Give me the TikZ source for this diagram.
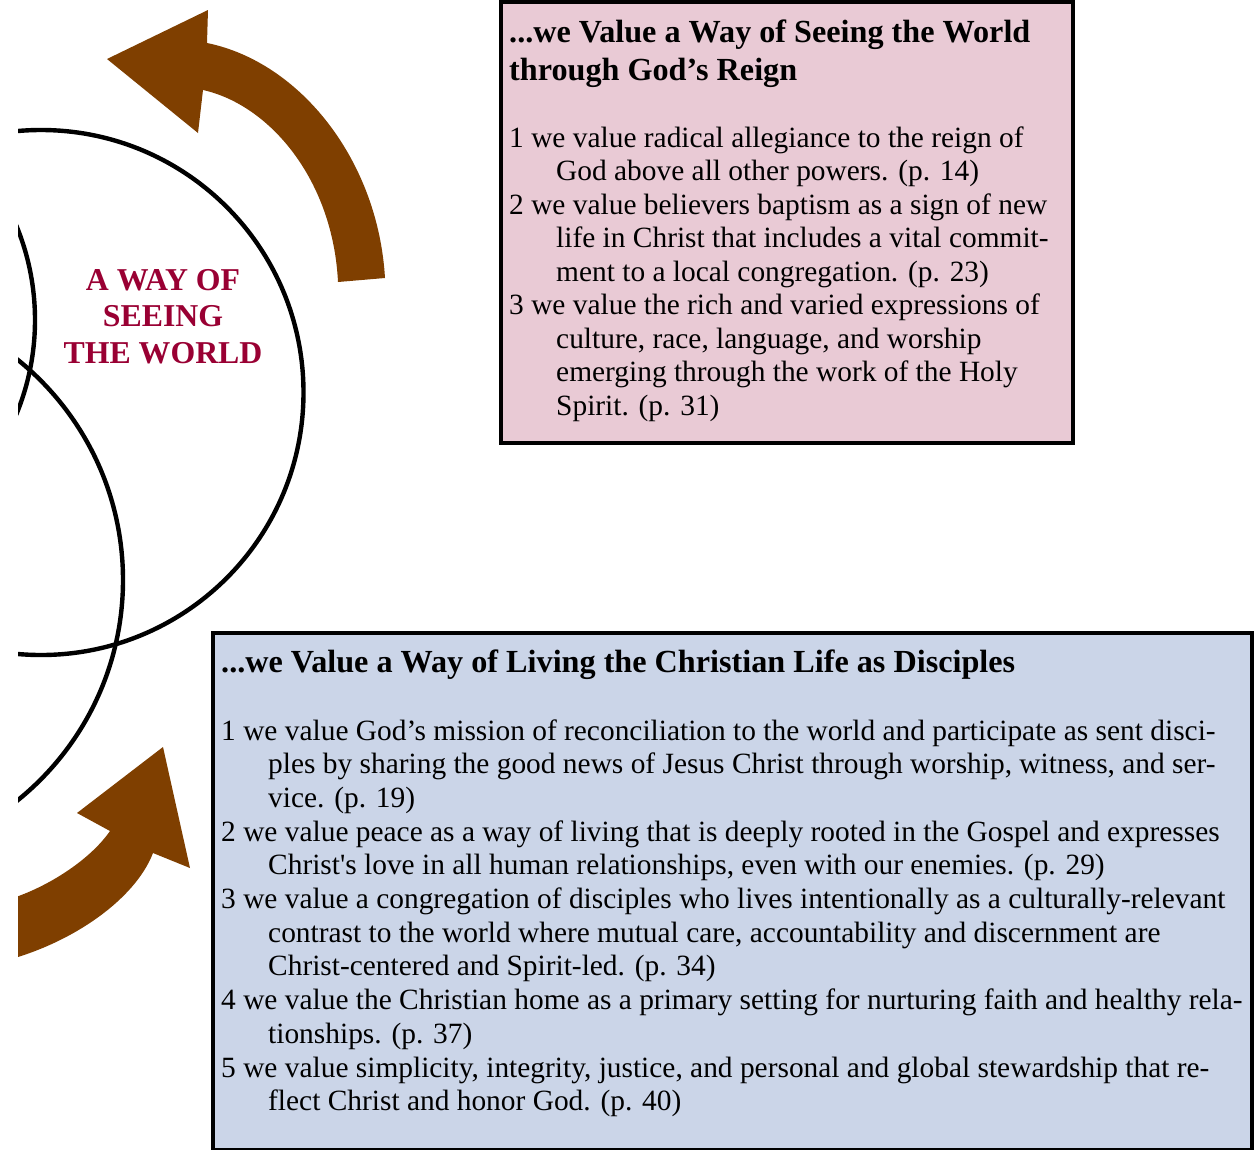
\documentclass[tikz,border=0pt]{standalone}
\usepackage{fontspec}
\setmainfont{Liberation Serif}
\definecolor{pinkbg}{RGB}{233,202,213}
\definecolor{bluebg}{RGB}{203,213,232}
\definecolor{arrowbrown}{RGB}{127,63,0}
\definecolor{crimson}{RGB}{153,0,51}
\begin{document}
\begin{tikzpicture}[x=1pt,y=-1pt,
  body/.style={anchor=base west, inner sep=0, font=\fontsize{29.4}{33.7}\selectfont},
  ttl/.style={anchor=base west, inner sep=0, font=\fontsize{32.2}{38}\selectfont\bfseries},
  lbl/.style={anchor=base, inner sep=0, text=crimson, font=\fontsize{31.8}{36.5}\selectfont\bfseries},
  ring/.style={draw=black, line width=4.4},
  box/.style={draw=black, line width=4},
  bigarrow/.style={fill=arrowbrown}]
\useasboundingbox (0,0) rectangle (1255,1149);

% left graphics, clipped at the left margin
\begin{scope}
  \clip (18,-10) rectangle (1260,1160);
  \draw[ring] (41,392.5) circle [radius=262.5];
  \draw[ring] (-160,580) circle [radius=283];
  \draw[ring] (-212,320) circle [radius=247];
  \fill[bigarrow] (338,282) -- (385,278) .. controls (378,160) and (300,62) .. (207,43)
     -- (208,10) -- (107,59) -- (198,133) -- (203,90)
     .. controls (270,105) and (333,180) .. (338,282) -- cycle;
  \fill[bigarrow] (0,902) .. controls (45,890) and (90,860) .. (110,831)
     -- (77,813) -- (163,747) -- (190,868) -- (153,853)
     .. controls (135,900) and (70,945) .. (0,962) -- cycle;
\end{scope}

\node[lbl] (l1) at (163,290) {A WAY OF};
\node[lbl] (l2) at (163,326.5) {SEEING};
\node[lbl] (l3) at (163,363) {THE WORLD};

% top box
\draw[box, fill=pinkbg] (501,2) rectangle (1073,443);
\node[ttl] (a0) at (509,42) {...we Value a Way of Seeing the World};
\node[ttl] (a00) at (509,80) {through God’s Reign};
\node[body] (a1) at (509,147) {1 we value radical allegiance to the reign of};
\node[body] (a2) at (556,180.5) {God above all other powers. (p. 14)};
\node[body] (a3) at (509,214) {2 we value believers baptism as a sign of new};
\node[body] (a4) at (556,247.5) {life in Christ that includes a vital commit-};
\node[body] (a5) at (556,281) {ment to a local congregation. (p. 23)};
\node[body] (a6) at (509,314.5) {3 we value the rich and varied expressions of};
\node[body] (a7) at (556,348) {culture, race, language, and worship};
\node[body] (a8) at (556,381.5) {emerging through the work of the Holy};
\node[body] (a9) at (556,415) {Spirit. (p. 31)};

% bottom box
\draw[box, fill=bluebg] (213,633) rectangle (1252,1150);
\node[ttl] (b0) at (221,672) {...we Value a Way of Living the Christian Life as Disciples};
\node[body] (b1) at (221,740) {1 we value God’s mission of reconciliation to the world and participate as sent disci-};
\node[body] (b2) at (268,773.7) {ples by sharing the good news of Jesus Christ through worship, witness, and ser-};
\node[body] (b3) at (268,807.4) {vice. (p. 19)};
\node[body] (b4) at (221,841.1) {2 we value peace as a way of living that is deeply rooted in the Gospel and expresses};
\node[body] (b5) at (268,874.8) {Christ\textquotesingle s love in all human relationships, even with our enemies. (p. 29)};
\node[body] (b6) at (221,908.5) {3 we value a congregation of disciples who lives intentionally as a culturally-relevant};
\node[body] (b7) at (268,942.2) {contrast to the world where mutual care, accountability and discernment are};
\node[body] (b8) at (268,975.9) {Christ-centered and Spirit-led. (p. 34)};
\node[body] (b9) at (221,1009.6) {4 we value the Christian home as a primary setting for nurturing faith and healthy rela-};
\node[body] (b10) at (268,1043.3) {tionships. (p. 37)};
\node[body] (b11) at (221,1077) {5 we value simplicity, integrity, justice, and personal and global stewardship that re-};
\node[body] (b12) at (268,1110.7) {flect Christ and honor God. (p. 40)};
\end{tikzpicture}
\end{document}
